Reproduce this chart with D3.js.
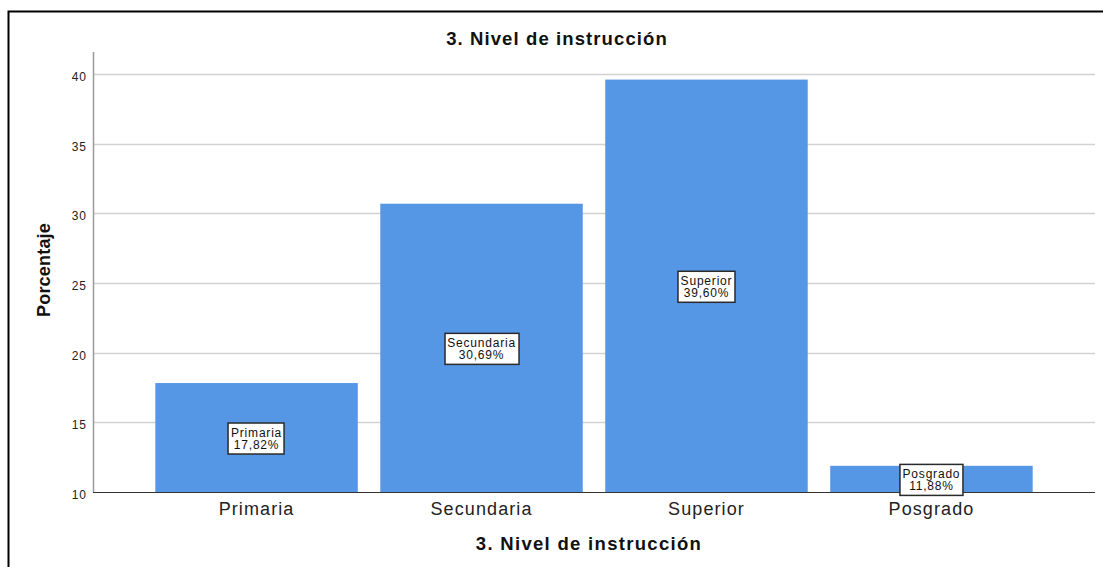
<!DOCTYPE html>
<html>
<head>
<meta charset="utf-8">
<script src="https://cdn.jsdelivr.net/npm/d3@7"></script>
<style>
  html, body { margin: 0; padding: 0; background: #fff; }
  svg { display: block; font-family: "Liberation Sans", Arial, sans-serif; }
</style>
</head>
<body>
<svg id="chart" width="1103" height="567"></svg>
<script>
// Nivel de instrucción: porcentaje por categoría
const categories = ["Primaria", "Secundaria", "Superior", "Posgrado"];
const percentages = [17.82, 30.69, 39.60, 11.88];
const yTicks = [10, 15, 20, 25, 30, 35, 40];
const chartTitle = "3. Nivel de instrucción";
const xTitle = "3. Nivel de instrucción";
const yTitle = "Porcentaje";

const svg = d3.select("#chart");
const W = 1103, H = 567;
const FONT = "Liberation Sans, Arial, sans-serif";

const plot = { left: 93, right: 1095, top: 52, bottom: 492 };

// outer frame (top and left edges visible)
svg.append("path")
  .attr("d", `M8.5,${H} L8.5,11.5 L${W},11.5`)
  .attr("fill", "none")
  .attr("stroke", "#000")
  .attr("stroke-width", 2);

const x = d3.scaleBand()
  .domain(categories)
  .range([plot.left, plot.right])
  .paddingInner(0.1)
  .paddingOuter(0.277);

const y = d3.scaleLinear()
  .domain([10, 41.6])
  .range([plot.bottom, plot.bottom - 31.6 * (418 / 30)]);

// gridlines
svg.append("g")
  .selectAll("line")
  .data(yTicks.filter(t => t > 10))
  .join("line")
  .attr("x1", plot.left)
  .attr("x2", plot.right)
  .attr("y1", d => Math.round(y(d)) + 0.5)
  .attr("y2", d => Math.round(y(d)) + 0.5)
  .attr("stroke", "#d2d2d2")
  .attr("stroke-width", 1.5);

// bars
const data = categories.map((c, i) => ({ cat: c, val: percentages[i] }));
svg.append("g")
  .selectAll("rect")
  .data(data)
  .join("rect")
  .attr("x", d => x(d.cat))
  .attr("width", x.bandwidth())
  .attr("y", d => y(d.val))
  .attr("height", d => y(10) - y(d.val))
  .attr("fill", "#5596e5");

// y axis
const yAxis = d3.axisLeft(y).tickValues(yTicks).tickSize(0).tickPadding(6);
const gy = svg.append("g")
  .attr("transform", `translate(${plot.left},0)`)
  .call(yAxis);
gy.select(".domain").remove();
gy.selectAll("text")
  .attr("font-size", 12)
  .attr("letter-spacing", 1)
  .attr("dy", "0.55em")
  .attr("fill", "#222")
  .attr("font-family", FONT);
svg.append("line")
  .attr("x1", plot.left + 0.5).attr("x2", plot.left + 0.5)
  .attr("y1", plot.top).attr("y2", plot.bottom)
  .attr("stroke", "#9a9a9a").attr("stroke-width", 1.5);

// x axis
const xAxis = d3.axisBottom(x).tickSize(0).tickPadding(10);
const gx = svg.append("g")
  .attr("transform", `translate(0,${plot.bottom})`)
  .call(xAxis);
gx.select(".domain").remove();
gx.selectAll("text")
  .attr("font-size", 18)
  .attr("letter-spacing", 1.1)
  .attr("fill", "#222")
  .attr("font-family", FONT);
svg.append("line")
  .attr("x1", plot.left).attr("x2", plot.right)
  .attr("y1", plot.bottom + 0.5).attr("y2", plot.bottom + 0.5)
  .attr("stroke", "#333").attr("stroke-width", 1.2);

// value labels inside bars
const fmt = v => v.toFixed(2).replace(".", ",") + "%";
const labels = svg.append("g")
  .selectAll("g")
  .data(data)
  .join("g")
  .attr("transform", d => {
    const cx = x(d.cat) + x.bandwidth() / 2;
    const cy = (y(d.val) + y(10)) / 2 + 1;
    return `translate(${cx},${cy})`;
  });
labels.each(function(d) {
  const g = d3.select(this);
  const t = g.append("text")
    .attr("text-anchor", "middle")
    .attr("font-size", 12)
    .attr("letter-spacing", 0.8)
    .attr("fill", "#111");
  t.append("tspan").attr("x", 0).attr("y", -2).text(d.cat);
  t.append("tspan").attr("x", 0).attr("y", 10).text(fmt(d.val));
  const bb = t.node().getBBox();
  g.insert("rect", "text")
    .attr("x", Math.round(bb.x - 3) + 0.5)
    .attr("y", -15.5)
    .attr("width", Math.round(bb.width + 5))
    .attr("height", 31)
    .attr("fill", "#fff")
    .attr("stroke", "#2a2a2a")
    .attr("stroke-width", 1.5);
});

// titles
svg.append("text")
  .attr("x", 557).attr("y", 45)
  .attr("text-anchor", "middle")
  .attr("font-size", 18.5).attr("font-weight", "bold")
  .attr("letter-spacing", 1.1)
  .attr("fill", "#111")
  .text(chartTitle);

svg.append("text")
  .attr("x", 589).attr("y", 550)
  .attr("text-anchor", "middle")
  .attr("font-size", 18.5).attr("font-weight", "bold")
  .attr("letter-spacing", 1.3)
  .attr("fill", "#111")
  .text(xTitle);

svg.append("text")
  .attr("transform", `translate(50,270) rotate(-90)`)
  .attr("text-anchor", "middle")
  .attr("font-size", 18).attr("font-weight", "bold")
  .attr("letter-spacing", 0.2)
  .attr("fill", "#111")
  .text(yTitle);
</script>
</body>
</html>
